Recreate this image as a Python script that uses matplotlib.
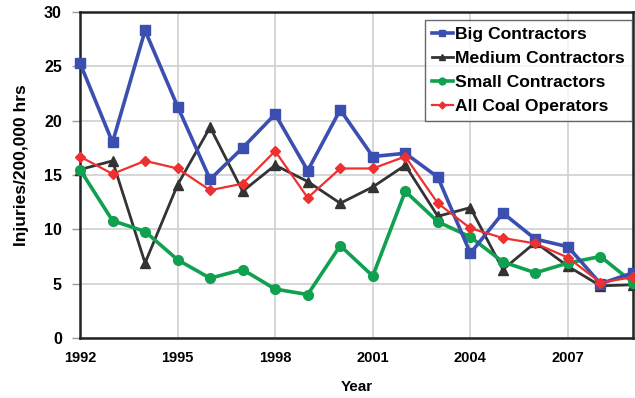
import matplotlib
matplotlib.use("Agg")
import matplotlib.pyplot as plt

plt.rcParams['font.family'] = ['Liberation Sans', 'DejaVu Sans']
plt.rcParams['font.weight'] = 'bold'

years = list(range(1992, 2010))
big = [25.3, 18.0, 28.3, 21.3, 14.6, 17.5, 20.6, 15.4, 21.0, 16.7,
       17.0, 14.8, 7.8, 11.5, 9.1, 8.4, 5.0, 6.0]
medium = [15.5, 16.3, 6.9, 14.1, 19.4, 13.5, 15.9, 14.4, 12.4, 13.9,
          15.9, 11.2, 12.0, 6.3, 8.8, 6.6, 4.8, 4.9]
small = [15.5, 10.8, 9.8, 7.2, 5.5, 6.3, 4.5, 4.0, 8.5, 5.7,
         13.5, 10.7, 9.3, 7.0, 6.0, 6.9, 7.5, 5.1]
all_coal = [16.7, 15.1, 16.3, 15.6, 13.6, 14.2, 17.2, 12.9, 15.6, 15.6,
            16.7, 12.4, 10.1, 9.2, 8.7, 7.4, 5.1, 5.6]

labels = ["Big Contractors", "Medium Contractors", "Small Contractors",
          "All Coal Operators"]
x_ticks = [1992, 1995, 1998, 2001, 2004, 2007]
y_ticks = [0, 5, 10, 15, 20, 25, 30]

fig = plt.figure(figsize=(6.35, 3.98), dpi=100)
ax = fig.add_axes([80 / 635, 60 / 398, 553 / 635, 326 / 398])

ax.plot(years, big, color='#3a4fb0', lw=2.6, marker='s', ms=7,
        label=labels[0], clip_on=False, zorder=4)
ax.plot(years, medium, color='#333333', lw=2.0, marker='^', ms=7,
        label=labels[1], clip_on=False, zorder=3)
ax.plot(years, small, color='#10a050', lw=2.6, marker='o', ms=7,
        label=labels[2], clip_on=False, zorder=3)
ax.plot(years, all_coal, color='#ee3030', lw=1.6, marker='D', ms=5,
        label=labels[3], clip_on=False, zorder=5)

ax.set_xlim(1992, 2009)
ax.set_ylim(0, 30)
ax.set_xticks(x_ticks)
ax.set_yticks(y_ticks)
ax.grid(True, color='#d0d0d0', lw=1.2)
ax.set_axisbelow(True)
for s in ax.spines.values():
    s.set_linewidth(1.8)
    s.set_color('#222222')
ax.tick_params(axis='y', labelsize=11.5, length=6, width=1.0,
               color='#999999', pad=7)
ax.tick_params(axis='x', labelsize=10.5, length=0, pad=9)
ax.set_xlabel("Year", fontsize=11, fontweight='bold', labelpad=11)
ax.set_ylabel("Injuries/200,000 hrs", fontsize=12.5, fontweight='bold')
ax.yaxis.set_label_coords(-0.093, 0.53)

leg = ax.legend(loc='upper right', bbox_to_anchor=(0.9985, 0.975),
                fontsize=12.6, frameon=True, fancybox=False,
                handlelength=1.2, handletextpad=0.15, borderpad=0.4,
                borderaxespad=0.0, labelspacing=0.5, markerscale=0.7)
leg.get_frame().set_edgecolor('#444444')
leg.get_frame().set_linewidth(1.0)
for t in leg.get_texts():
    t.set_fontweight('bold')

fig.savefig("out.png", dpi=100)
